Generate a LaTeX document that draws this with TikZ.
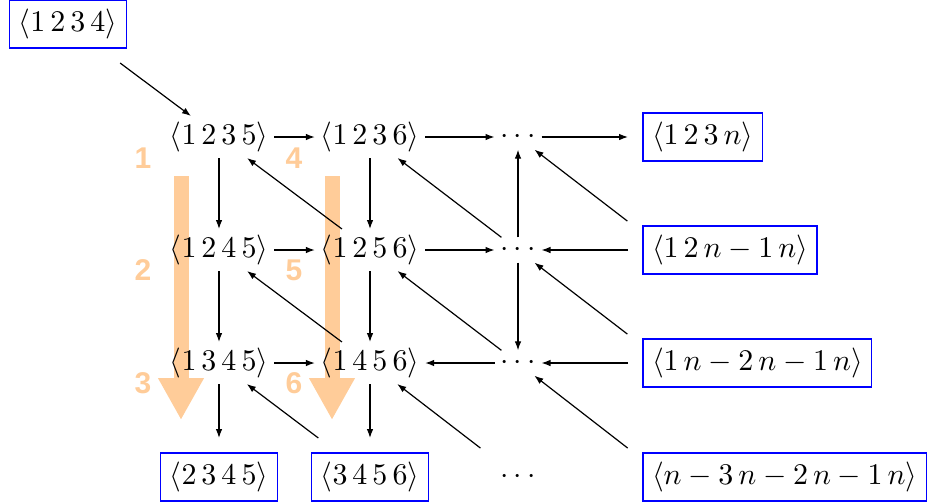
\documentclass[tikz,border=0pt]{standalone}
\usepackage{fontspec}
\newfontfamily\lblfont{Liberation Sans}
\usetikzlibrary{arrows.meta}
\definecolor{peach}{RGB}{255,204,153}
\begin{document}
\begin{tikzpicture}[x=0.33333pt,y=-0.33333pt,
  m/.style={inner sep=2pt, outer sep=0pt},
  bx/.style={draw=blue, line width=0.4pt, inner sep=3pt, outer sep=5pt},
  hid/.style={inner sep=0pt, outer sep=0pt, minimum width=25.3pt, minimum height=19.3pt},
  ar/.style={-{Latex[length=3pt,width=2.2pt]}, line width=0.4pt},
  big/.style={draw=peach, line width=5pt, -{Triangle[length=14pt,width=14.3pt]}},
  lbl/.style={text=peach, inner sep=0pt, font=\lblfont\bfseries\fontsize{10}{12}\selectfont}
]
\useasboundingbox (0,0) rectangle (937,503);

% orange flow arrows and their labels
\draw[big] (181,176) -- (181,420);
\draw[big] (332,176) -- (332,420);
\node[lbl] (l1) at (143,158) {1};
\node[lbl] (l2) at (143,270) {2};
\node[lbl] (l3) at (143,383) {3};
\node[lbl] (l4) at (294,158) {4};
\node[lbl] (l5) at (294,270) {5};
\node[lbl] (l6) at (294,383) {6};

% nodes
\node[bx] (b1234) at (68,24) {$\langle 1\,2\,3\,4\rangle$};

\node[m] (n1235) at (219,137) {$\langle 1\,2\,3\,5\rangle$};
\node[m] (n1236) at (370,137) {$\langle 1\,2\,3\,6\rangle$};
\node[m] (d1) at (518,137) {$\cdots$};
\node[hid] (c1) at (665,137) {};
\node[bx, anchor=west] (b123n) at (628,137) {$\langle 1\,2\,3\,n\rangle$};

\node[m] (n1245) at (219,250) {$\langle 1\,2\,4\,5\rangle$};
\node[m] (n1256) at (370,250) {$\langle 1\,2\,5\,6\rangle$};
\node[m] (d2) at (518,250) {$\cdots$};
\node[hid] (c2) at (665,250) {};
\node[bx, anchor=west] (b12n) at (628,250) {$\langle 1\,2\,n-1\,n\rangle$};

\node[m] (n1345) at (219,363) {$\langle 1\,3\,4\,5\rangle$};
\node[m] (n1456) at (370,363) {$\langle 1\,4\,5\,6\rangle$};
\node[m] (d3) at (518,363) {$\cdots$};
\node[hid] (c3) at (665,363) {};
\node[bx, anchor=west] (b1n2) at (628,363) {$\langle 1\,n-2\,n-1\,n\rangle$};

\node[bx] (b2345) at (219,477) {$\langle 2\,3\,4\,5\rangle$};
\node[bx] (b3456) at (370,477) {$\langle 3\,4\,5\,6\rangle$};
\node[m, hid] (d4) at (518,477) {$\cdots$};
\node[hid] (c4) at (665,477) {};
\node[bx, anchor=west] (bn3) at (628,477) {$\langle n-3\,n-2\,n-1\,n\rangle$};

% horizontal arrows
\draw[ar] (b1234) -- (n1235);
\draw[ar] (n1235) -- (n1236);
\draw[ar] (n1236) -- (d1);
\draw[ar] (d1) -- (b123n);
\draw[ar] (n1245) -- (n1256);
\draw[ar] (n1256) -- (d2);
\draw[ar] (b12n) -- (d2);
\draw[ar] (n1345) -- (n1456);
\draw[ar] (d3) -- (n1456);
\draw[ar] (b1n2) -- (d3);

% vertical arrows
\draw[ar] (n1235) -- (n1245);
\draw[ar] (n1245) -- (n1345);
\draw[ar] (n1345) -- (b2345);
\draw[ar] (n1236) -- (n1256);
\draw[ar] (n1256) -- (n1456);
\draw[ar] (n1456) -- (b3456);
\draw[ar] (d2) -- (d1);
\draw[ar] (d2) -- (d3);

% diagonal arrows
\draw[ar] (n1256) -- (n1235);
\draw[ar] (d2) -- (n1236);
\draw[ar] (c2) -- (d1);
\draw[ar] (n1456) -- (n1245);
\draw[ar] (d3) -- (n1256);
\draw[ar] (c3) -- (d2);
\draw[ar] (b3456) -- (n1345);
\draw[ar] (d4) -- (n1456);
\draw[ar] (c4) -- (d3);
\end{tikzpicture}
\end{document}
